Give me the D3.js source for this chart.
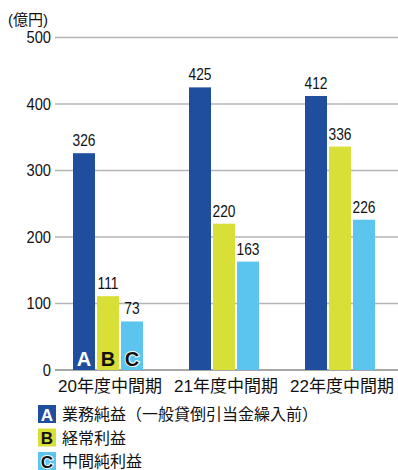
<!DOCTYPE html>
<html><head><meta charset="utf-8">
<script src="https://cdn.jsdelivr.net/npm/d3@7/dist/d3.min.js"></script>
<style>
body{margin:0;background:#fff;}
text{font-family:"Liberation Sans",Arial,"Noto Sans CJK JP",sans-serif;}
</style></head>
<body>
<svg id="c" width="398" height="470"></svg>
<script>
const categories = ["20年度中間期","21年度中間期","22年度中間期"];
const seriesNames = ["業務純益（一般貸倒引当金繰入前）","経常利益","中間純利益"];
const seriesKeys = ["A","B","C"];
const seriesA = [326,425,412];
const seriesB = [111,220,336];
const seriesC = [73,163,226];
const yTicks = [0,100,200,300,400,500];
const unitLabel = "(億円)";
const colors = ["#1f4e9f","#d8e038","#5bc5f0"];

const svg = d3.select("#c");
const values = [seriesA, seriesB, seriesC];

const y = d3.scaleLinear().domain([0,500]).range([370,37.5]);
const x0 = d3.scaleBand().domain(categories).range([50,398]).paddingInner(0).paddingOuter(0);
const x1 = d3.scaleBand().domain(seriesKeys).range([0,70]).paddingInner(0.0833).paddingOuter(0);
const off = (x0.bandwidth()-70)/2;

// gridlines
svg.append("g").selectAll("line").data(yTicks).join("line")
  .attr("x1",55).attr("x2",398)
  .attr("y1",d=>y(d)).attr("y2",d=>y(d))
  .attr("stroke",d=>d===0?"#888":"#b4b4b4").attr("stroke-width",1.5);

// y tick labels
svg.append("g").selectAll("text").data(yTicks).join("text")
  .attr("transform",d=>`translate(51,${y(d)+5.5}) scale(0.92,1)`).attr("text-anchor","end")
  .attr("font-size",16).attr("fill","#111").text(d=>d);

svg.append("text").attr("x",8).attr("y",25).attr("font-size",15).attr("fill","#111").text(unitLabel);

// bars
categories.forEach((cat,ci)=>{
  const g = svg.append("g").attr("transform",`translate(${x0(cat)+off},0)`);
  seriesKeys.forEach((k,si)=>{
    const v = values[si][ci];
    g.append("rect").attr("x",x1(k)).attr("width",x1.bandwidth())
      .attr("y",y(v)).attr("height",y(0)-y(v)).attr("fill",colors[si]);
    g.append("text")
      .attr("transform",`translate(${x1(k)+x1.bandwidth()/2},${y(v)-7}) scale(0.81,1)`)
      .attr("text-anchor","middle").attr("font-size",17).attr("fill","#111").text(v);
    if(ci===0){
      const t = g.append("text").attr("x",x1(k)+x1.bandwidth()/2).attr("y",366)
        .attr("text-anchor","middle").attr("font-size",20).attr("font-weight","bold").text(k);
      if(si===0) t.attr("fill","#fff");
      else if(si===1) t.attr("fill","#111");
      else t.attr("fill","#111").attr("stroke","#fff").attr("stroke-width",2).attr("paint-order","stroke");
    }
  });
});

// x labels
svg.append("g").selectAll("text").data(categories).join("text")
  .attr("x",d=>x0(d)+x0.bandwidth()/2+2).attr("y",392).attr("text-anchor","middle")
  .attr("font-size",17).attr("fill","#111").text(d=>d);

// legend
seriesNames.forEach((n,i)=>{
  const yy = 405 + i*23.5;
  svg.append("rect").attr("x",38).attr("y",yy).attr("width",18).attr("height",18).attr("fill",colors[i]);
  const t = svg.append("text").attr("x",47).attr("y",yy+15.5).attr("text-anchor","middle")
    .attr("font-size",17).attr("font-weight","bold").text(seriesKeys[i]);
  if(i===0) t.attr("fill","#fff");
  else if(i===1) t.attr("fill","#111");
  else t.attr("fill","#111").attr("stroke","#fff").attr("stroke-width",2).attr("paint-order","stroke");
  svg.append("text").attr("x",62).attr("y",yy+15).attr("font-size",16).attr("fill","#111").text(n);
});
</script>
</body></html>
